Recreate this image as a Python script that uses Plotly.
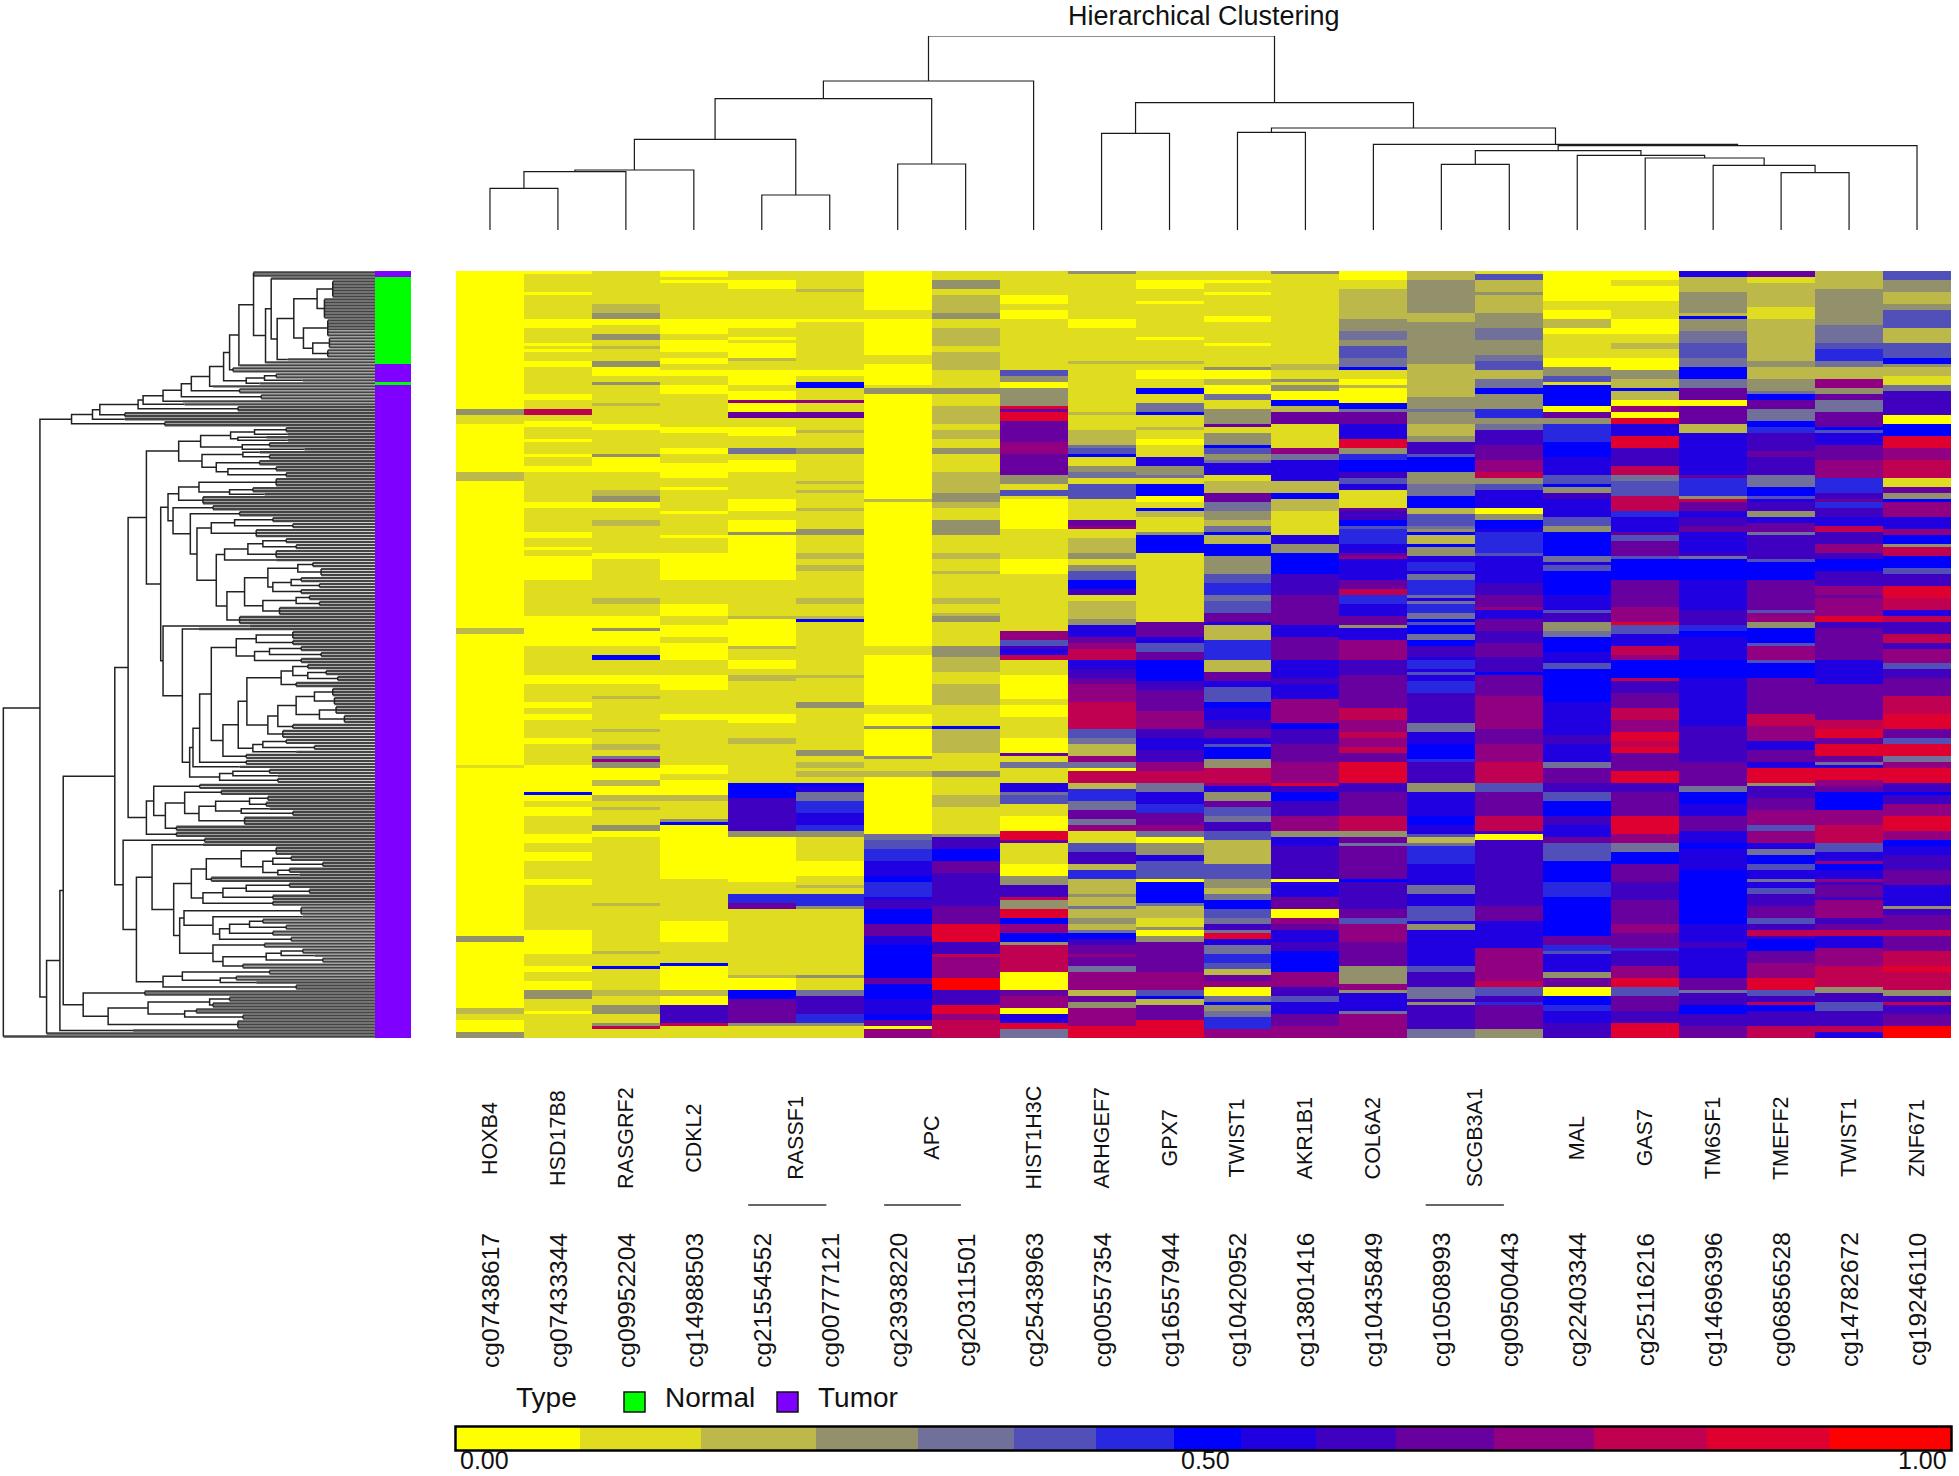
import plotly.graph_objects as go

W, H = 1959, 1476
N_ROWS = 256

PROBES = ["cg07438617","cg07433344","cg09952204","cg14988503","cg21554552","cg00777121","cg23938220","cg20311501",
          "cg25438963","cg00557354","cg16557944","cg10420952","cg13801416","cg10435849","cg10508993","cg09500443",
          "cg22403344","cg25116216","cg14696396","cg06856528","cg14782672","cg19246110"]
GENES = ["HOXB4","HSD17B8","RASGRF2","CDKL2","RASSF1","APC","HIST1H3C","ARHGEF7","GPX7","TWIST1","AKR1B1","COL6A2",
         "SCGB3A1","MAL","GAS7","TM6SF1","TMEFF2","TWIST1","ZNF671"]
GENE_POS = [0,1,2,3,4.5,6.5,8,9,10,11,12,13,14.5,16,17,18,19,20,21]
GENE_BARS = [(3.8,4.95),(5.8,6.93),(13.77,14.92)]

# colour key: 15 steps, a..o
KEY_EDGES = [0,.083,.164,.241,.309,.373,.428,.48,.525,.575,.629,.694,.761,.837,.919,1]
KEY_COLORS = ["#FFFF00","#E0DC20","#BDB84A","#93906C","#70709A","#5050B8","#2828E0","#0000FF","#2000E0","#4000C0",
              "#6800A0","#900080","#C00050","#E00030","#FF0000"]
KEY_LETTERS = "abcdefghijklmno"

# methylation level per probe, as "first_row+level" bands, rows top to bottom
COL_BANDS = [
"0a 46d 48b 51a 67c 70a 119c 121a 165b 166a 222d 224a 246c 248b 250a 254d",
"0a 1b 7a 8b 16a 19b 24a 25b 26a 27b 30a 32b 41a 43b 46m 48b 50a 52b 56a 57b 61a 62b 65a 67b 77a 79b 87a 89b 92a 93b 95a 103b 115a 125b 135a 138b 144a 146b 148a 150b 156a 158b 165a 174h 175a 177b 179a 182b 188a 191b 194a 197b 203a 205b 220a 228b 232a 234b 237a 240d 243b 247a 248b",
"0b 11c 14d 16a 18b 21d 23b 25c 26b 30d 32a 35b 37d 38b 44c 45b 51a 53b 61d 62a 67b 73c 75d 77a 79b 83c 85b 94a 96b 109c 111b 115a 119d 120a 125b 128h 130b 135a 138b 142c 143b 153c 154b 158c 160b 162e 163l 164d 166a 170c 172a 175c 177b 179c 180b 185d 187a 189b 211c 212b 227c 228b 232h 233b 240c 242b 245d 248b 251d 252m 253b",
"0a 2b 3a 4b 16a 21b 23a 27b 29a 31b 33a 35b 38a 41b 52a 54b 59a 61b 64a 69b 72a 73b 80a 81b 88a 89b 94a 103b 111a 115b 118a 122b 124a 130b 135a 140b 148a 150b 165a 168b 170a 175c 177b 183d 184h 185a 203b 217a 224b 231h 232a 240c 242a 245j 251m 252b",
"0b 3a 6b 16a 19b 22a 23b 24a 29c 30b 33a 38b 40a 43l 44a 47k 49b 52a 55b 59e 61b 63a 67b 76a 80b 83a 87d 88a 103b 115c 116a 125c 126b 130a 133b 135c 137b 148a 151b 156c 158b 171h 176j 187d 189a 204b 208g 211k 213b 235c 236a 240h 243k 251d 252b",
"0b 6c 7b 16a 17b 33a 35b 37h 39b 43l 44b 47k 49b 53c 54b 59d 61b 70c 71b 73c 74b 79c 80b 86d 88b 94c 96b 98c 100b 109c 111b 115c 116h 117b 126b 135c 136b 144d 146b 160d 162b 164c 166b 167c 169b 171h 172i 174e 177g 181i 185g 187d 189b 197a 202b 205c 206b 208g 212d 213b 235d 236b 240e 242j 248g 251d 252b",
"0a 13b 16a 28b 31a 38b 39d 41a 76c 77a 125b 128a 145b 148a 152d 153a 162d 163b 167c 169a 188e 190f 193g 197i 202h 204g 209i 210j 213h 218k 222i 225h 236k 238h 243i 248h 250k 252a 253l",
"0b 3d 6b 8c 14d 16b 19c 25b 27c 33b 39d 41b 45c 51b 53c 56b 59d 61b 67c 74d 77c 79b 83d 88b 94c 96b 100c 101b 109c 111b 114c 115d 117b 125d 129c 134b 138c 145b 152h 153c 161b 167d 169b 175c 179b 188d 189j 193h 197k 201j 212k 218n 224j 228m 229l 236o 240j 245n 248l 250m",
"0b 8a 11b 13a 16b 33f 35d 37a 39d 45n 46k 47n 50k 57l 61k 68d 71b 73f 75b 76a 86b 96a 101b 120l 123f 125j 126i 128m 130b 135a 143b 145a 149b 156a 161k 162b 164e 166b 171i 174e 175f 178b 182a 187n 190k 191b 198a 202d 205j 209m 210d 213n 216h 218l 221h 224d 225m 234a 240k 242l 246a 248i 251n 253e",
"0d 1b 16a 19b 30c 31b 47c 48b 53c 58e 59f 61h 62b 65d 67e 69b 71f 76b 83k 85l 86b 89c 94d 96b 98d 100f 103h 106j 108b 110c 116d 118i 122k 124l 126m 130i 133j 136k 138l 144m 153f 156e 158c 162l 164e 166a 167m 171c 173g 177e 180k 183e 185l 187b 191f 194j 198c 200g 203c 208d 209c 212e 213c 216d 218c 220e 221h 223j 225k 228l 229k 232e 234l 240c 242k 244d 246l 252n",
"0b 3a 6b 10a 11b 22a 23b 30c 31b 33a 36b 39h 41b 44e 47h 48b 52c 53b 56a 58b 62i 65d 68e 69b 71h 75a 77b 79h 80c 82b 87d 88h 94b 117k 122i 124f 127k 130h 137j 140k 147l 153j 156i 160j 164l 167m 171e 174i 178g 181k 185l 187e 189a 191d 195i 197f 203a 204h 211e 212c 216b 219d 220a 222d 224k 234l 240f 242h 243c 245k 250n",
"0b 3a 4b 7a 8b 15a 17b 24a 25b 32d 33a 36c 38a 41e 43b 46d 51k 52b 54d 58h 59f 61d 63e 64i 68b 70c 74k 77e 80d 83c 85e 87h 88c 91h 95d 101f 104g 108e 110f 114k 117i 118c 123g 130c 134k 137i 139f 144h 146i 150j 153k 156i 158f 159h 163d 166m 171l 172i 174d 177k 179f 182e 184j 187f 190c 198f 203d 206c 208e 210h 213f 216e 218j 220e 221n 223i 225e 228g 231f 233c 235k 237l 239a 242e 244h 245d 247e 249g 253l",
"0d 1b 31c 33b 36d 37b 38d 40a 43h 45c 47k 51b 59l 61e 63i 70c 74h 76c 80b 88i 91d 94h 101j 108k 118i 122k 130i 136j 138i 143l 151h 153j 158k 164l 171n 172j 174h 177j 182l 187d 189i 192j 203a 204i 209k 213a 216l 218k 220i 224j 227h 234l 239j 242f 244i 248k 252l",
"0a 3b 6c 16d 20e 23d 25f 29e 32h 33b 36a 38c 39a 44h 46e 47k 51i 56n 59d 61g 63h 67j 69f 71i 73b 79k 80j 83h 85f 86g 91i 94k 95l 96i 103k 106m 108g 111i 115k 118d 119i 123l 130j 135k 146m 150l 154m 156l 159m 161k 164n 171j 174k 182m 187d 189k 191e 192k 203h 204j 213k 216f 218l 224k 232d 238l 240d 241i 247e 248l",
"0c 3d 14c 17d 31c 42d 46e 47d 51c 55d 57j 61f 62h 67d 71e 75h 79c 81f 85e 86d 87h 88c 91h 92d 95i 97g 100i 101e 103g 108e 109i 110e 111g 114e 116h 117f 118h 121e 123h 125j 129i 130g 133i 134f 135i 137g 141j 151e 154i 158h 163g 164j 171d 174i 182h 185i 188f 189c 191e 192g 198i 205e 208i 212f 217i 218d 220i 232f 234j 239e 243j 244d 245j 253e",
"0b 1f 3c 7d 8c 14d 19e 23d 28e 30f 33c 36e 39h 41d 46g 49d 51e 53j 58k 63l 67m 69d 71f 73i 79a 81d 83h 86i 87g 94f 95i 104j 108k 112l 113i 116k 120j 124k 129j 134h 135k 142l 153k 158l 164m 171f 174k 182m 187j 188a 190j 212k 217i 226l 237m 239f 242j 244g 245k 253d",
"0a 10b 13a 16c 19a 21b 29a 32d 35f 37b 38h 45a 47k 49d 51g 57h 62i 68f 71h 72d 74j 76i 82f 85d 87h 95e 97i 98f 100h 108i 113f 114j 117d 120e 122h 127i 131f 133h 137h 144i 155j 158i 164e 166k 171j 174f 177h 182j 185i 189k 191f 197h 204g 209h 222k 225g 227f 228i 234d 236k 239a 242h 245g 247i 251j",
"0a 3b 5a 10b 16a 21b 24c 26b 29a 33d 36c 39h 40c 43a 45l 47a 49n 51i 55n 59j 65m 68e 70f 75m 80g 82i 87k 88f 90k 95f 96h 103k 112l 117n 118f 121i 125m 128l 130h 136m 137j 141k 146m 150l 154n 157m 159n 161k 167n 171j 174k 182n 188l 191e 194h 198k 204j 210k 218l 221k 226g 227j 232l 236n 239f 242k 247j 251n",
"0i 2c 7d 14c 15h 16d 20e 24f 29e 32h 36e 39k 43a 45k 51c 54i 68k 69g 75d 76m 77k 80i 82j 85k 87i 94j 95e 96h 103i 113j 118g 120h 122i 130h 136i 152j 164k 172e 174h 178i 182k 187i 191h 193i 200h 216h 218i 224j 226i 236k 240e 241j 245h 248j 252k",
"0k 2b 4c 12b 16c 30d 32c 36d 40e 41h 43k 46e 50h 52g 54j 60k 62j 68e 72h 75f 76i 77j 80d 82i 84k 87e 88j 96f 97h 103k 113f 114l 117d 119h 124f 125l 130f 131h 136k 148m 152l 157i 160k 164i 166n 171d 172j 176k 180l 185f 187l 191i 193e 195h 198f 200i 203e 204i 206f 208j 212k 216f 218j 220m 222j 223h 227k 231l 236n 240f 242j 244m 245h 247j 252m",
"0c 6d 18e 24f 26g 30e 32c 36l 39d 41k 43e 47k 52h 53f 54i 58k 63l 69g 74j 76k 77g 79j 82i 85m 87j 91l 94j 96h 100j 105l 108k 109l 115n 117j 119k 130i 138k 150m 153n 156k 158n 162k 164e 165i 166n 170l 172k 174h 180l 185m 191f 194i 197l 198h 200i 203l 204j 205k 209j 210l 216j 218k 220m 222i 226l 232m 239d 241j 244f 247j 252m 254i",
"0f 3d 7c 11d 13f 19c 24f 29h 31d 32c 35b 38e 40j 48a 51h 55n 59l 63m 69b 72k 74d 76h 77l 82i 86l 88h 91d 92m 95h 99f 101j 105n 109m 113i 115m 117j 121m 124j 126l 131f 133j 136k 142m 148n 153k 156f 158n 162e 164l 166n 171j 174h 175j 178l 182n 187l 190h 192i 195j 200k 205i 212d 213j 215k 220m 222k 227m 232n 234m 240d 242j 244m 245j 248k 252o",
]

TYPE_BANDS = "0t 2n 31t 37n 38t"
TYPE_COLORS = {"n": "#00FF00", "t": "#7F00FF"}
TYPE_LEGEND = [("Normal", "#00FF00"), ("Tumor", "#7F00FF")]

# probe tree: (merge height, left, right); ints are column indices
PROBE_TREE = (582,
    (447,
        (394,
            (272,
                (180, (175, (125, 0, 1), 2), 3),
                (105, 4, 5)),
            (198, 6, 7)),
        8),
    (382,
        (290, 9, 10),
        (306,
            (293, 11, 12),
            (257,
                13,
                (253,
                    (238,
                        (197, 14, 15),
                        (224, 16, (216, 17, (194, 18, (172, 19, 20))))),
                    21))))
)

# sample tree: (merge position, upper, lower); lists are [merge position, first row, last row]
GREEN = (883, (953, [1000,3,8], [975,9,15]), (912, [985,16,21], (940, [990,22,25], [985,26,28])))
TOP = (215,
    (278,
        (300,
            (415,
                (430,
                    (490,
                        (545,
                            (575,
                                (630,
                                    (672,
                                        (690,
                                            (718,
                                                (762, [762,0,1],
                                                    (798, (815, [815,2,2], (833, GREEN, [865,29,29])), [800,30,30])),
                                                [720,31,31]),
                                            [700,32,33]),
                                        (740, (795, [830,34,35], [910,36,36]), [780,37,37])),
                                    [640,38,38]),
                                [720,39,40]),
                            [785,41,42]),
                        [550,43,43]),
                    [555,44,44]),
                [715,45,46]),
            [375,47,48]),
        [375,49,49]),
    [495,50,51])

N603 = (603, (693, (765, [860,52,53], [865,54,54]), (715, [800,55,55], [865,56,56])), (728, [810,57,58], [915,59,59]))
N607 = (607, (730, [780,60,60], [810,61,62]), (650, [780,63,64], (685, [830,65,66], [860,67,68])))
N675 = (675, (745, (790, [860,89,90], [890,91,92]), [830,93,95]), [830,96,96])
N735 = (735,
    (805, (895, [940,97,98], [965,99,101]), (820, (875, [905,102,103], [960,104,105]), [905,106,107])),
    (790, (890, [930,108,109], [960,110,111]), [840,112,114]))
N592 = (592, (635, (705, [820,82,83], [880,84,85]), [770,86,88]), (650, N675, (682, N735, [720,115,117])))
N505 = (505,
    (537, (598, [830,69,71], (690, [760,72,73], [795,74,74])), [610,75,77]),
    (520, [640,78,79], (572, [720,80,81], N592)))
N742 = (742,
    (845, (880, [925,131,132], (925, [980,133,134], [1015,135,136])), [890,137,138]),
    (805, (835, (890, (945, [1000,139,141], [1005,142,144]), (960, [1010,145,147], [1035,148,150])), [880,151,152]), [850,153,155]))
N635 = (635,
    (710, (770, [880,120,122], [880,123,124]), (765, (810, [905,125,126], [965,127,128]), [905,129,130])),
    (670, (716, N742, (760, (790, [860,156,157], [945,158,159]), [890,160,160])), [740,161,162]))
N570 = (570, (580, (600, N635, [740,163,164]), [720,165,165]), (660, (700, [810,166,167], [835,168,168]), [835,169,170]))
N440A = (440,
    (537, N603, N607),
    (483, N505, (490, [750,118,118], (548, [598,119,119], N570))))
N440B = (440,
    (462, [600,171,172],
        (497, (555, [665,173,174], (598, (648, (750, [805,175,176], [800,177,178]), (725, [810,179,179], [880,180,181])), [735,182,184])), [530,185,186])),
    [530,187,188])
N620 = (620, (725, [830,192,194], (790, (820, [875,195,196], [970,197,198]), (835, [870,199,200], [900,201,201]))), [635,202,203])
N610 = (610, (670, (740, [870,204,205], [930,206,207]), [820,208,209]), [820,210,211])
N553 = (553, [905,212,214], (640, [910,215,215], (660, (690, (750, [790,216,217], [860,218,219]), [820,220,221]), [875,222,223])))
N640 = (640, [795,224,225], (670, (800, (845, [910,226,227], [945,228,228]), [970,229,230]), [730,231,232]))
N370 = (370, [615,189,190],
    (410,
        (457, [610,191,191], (522, (575, N620, N610), (540, N553, N640))),
        (490, (548, [810,233,234], (662, [710,235,236], [770,237,237])), [890,238,239])))
N250 = (250, [435,240,241],
    (325, (445, (630, [690,242,243], [640,244,245]), (555, [590,246,247], [730,248,249])), [715,250,252]))
SAMPLE_TREE = (10,
    (120, TOP,
        (140,
            (180,
                (190, (345, (385, N440A, N440B), N370), N250),
                [400,253,253]),
            [140,254,254])),
    [10,255,255])
SAMPLE_LEAF_END = 1127


def decode(bands):
    toks = [(int(t[:-1]), t[-1]) for t in bands.split()]
    out = [None] * N_ROWS
    for i, (start, lev) in enumerate(toks):
        end = toks[i + 1][0] if i + 1 < len(toks) else N_ROWS
        for r in range(start, end):
            out[r] = lev
    return out


key_mid = {l: (KEY_EDGES[i] + KEY_EDGES[i + 1]) / 2 for i, l in enumerate(KEY_LETTERS)}
columns = [[key_mid[l] for l in decode(b)] for b in COL_BANDS]
z = [[columns[c][r] for c in range(len(columns))] for r in range(N_ROWS)]

colorscale = []
for i, col in enumerate(KEY_COLORS):
    colorscale += [[KEY_EDGES[i], col], [KEY_EDGES[i + 1], col]]

px = lambda v: v / W
py = lambda v: 1 - v / H

fig = go.Figure()
fig.add_trace(go.Heatmap(z=z, x=list(range(22)), y=list(range(N_ROWS)), zmin=0, zmax=1, colorscale=colorscale,
                         showscale=False, xaxis="x", yaxis="y", hoverinfo="skip"))

# type strip
type_vals = [0 if t == "n" else 1 for t in decode(TYPE_BANDS)]
fig.add_trace(go.Heatmap(z=[[v] for v in type_vals], y=list(range(N_ROWS)), x=[0], zmin=0, zmax=1,
                         colorscale=[[0, TYPE_COLORS["n"]], [1, TYPE_COLORS["t"]]], showscale=False,
                         xaxis="x4", yaxis="y", hoverinfo="skip"))

# probe dendrogram
dx, dy = [], []
def walk_top(n):
    if isinstance(n, int):
        return n, 0
    h, a, b = n
    xa, ha = walk_top(a)
    xb, hb = walk_top(b)
    dx.extend([xa, xa, xb, xb, None])
    dy.extend([ha, h, h, hb, None])
    return (xa + xb) / 2, h
walk_top(PROBE_TREE)
fig.add_trace(go.Scatter(x=dx, y=dy, mode="lines", line=dict(color="#1a1a1a", width=1.2), xaxis="x2", yaxis="y2",
                         hoverinfo="skip", showlegend=False))

# sample dendrogram
sx, sy, lx, ly = [], [], [], []
def walk_side(n):
    if isinstance(n, list):
        pos, r0, r1 = n
        for r in range(r0, r1 + 1):
            lx.extend([pos, SAMPLE_LEAF_END, None])
            ly.extend([r, r, None])
        if r1 > r0:
            sx.extend([pos, pos, None])
            sy.extend([r0, r1, None])
        return pos, (r0 + r1) / 2
    pos, a, b = n
    pa, ya = walk_side(a)
    pb, yb = walk_side(b)
    sx.extend([pa, pos, pos, pb, None])
    sy.extend([ya, ya, yb, yb, None])
    return pos, (ya + yb) / 2
walk_side(SAMPLE_TREE)
fig.add_trace(go.Scatter(x=lx, y=ly, mode="lines", line=dict(color="#444444", width=2.4), xaxis="x3", yaxis="y",
                         hoverinfo="skip", showlegend=False))
fig.add_trace(go.Scatter(x=sx, y=sy, mode="lines", line=dict(color="#222222", width=1.5), xaxis="x3", yaxis="y",
                         hoverinfo="skip", showlegend=False))

# colour key
fig.add_trace(go.Heatmap(z=[[(KEY_EDGES[i] + KEY_EDGES[i + 1]) / 2 for i in range(15)]], x=KEY_EDGES, y=[0, 1],
                         zmin=0, zmax=1, colorscale=colorscale, showscale=False, xaxis="x5", yaxis="y5", hoverinfo="skip"))

hidden = dict(visible=False, showgrid=False, zeroline=False, fixedrange=True)
hm_dom = [px(456), px(1951)]
fig.update_layout(
    width=W, height=H, margin=dict(l=0, r=0, t=0, b=0, pad=0), paper_bgcolor="white", plot_bgcolor="white",
    showlegend=False, font=dict(family="Liberation Sans", color="#111111"),
    xaxis=dict(hidden, domain=hm_dom, range=[-0.5, 21.5]),
    yaxis=dict(hidden, domain=[py(1038), py(271)], range=[N_ROWS - 0.5, -0.5]),
    xaxis2=dict(hidden, domain=hm_dom, range=[-0.5, 21.5], anchor="y2"),
    yaxis2=dict(hidden, domain=[py(230), py(36)], range=[0, 582], anchor="x2"),
    xaxis3=dict(hidden, domain=[0, px(375)], range=[0, SAMPLE_LEAF_END], anchor="y"),
    xaxis4=dict(hidden, domain=[px(375), px(411)], range=[-0.5, 0.5], anchor="y"),
    xaxis5=dict(hidden, domain=[px(456), px(1951)], range=[0, 1], anchor="y5"),
    yaxis5=dict(hidden, domain=[py(1450), py(1427)], range=[0, 1], anchor="x5"),
)

ann = []
def text(x, y, s, size, xref="paper", angle=0, xanchor="center"):
    ann.append(dict(x=x, y=y, xref=xref, yref="paper", text=s, showarrow=False, textangle=angle, xanchor=xanchor,
                    yanchor="middle", font=dict(size=size, family="Liberation Sans", color="#111111")))

text(px(1204), py(16), "Hierarchical Clustering", 27)
for i, s in enumerate(PROBES):
    text(i, py(1300), s, 24.5, xref="x", angle=-90)
for p, s in zip(GENE_POS, GENES):
    text(p, py(1138), s, 21.5, xref="x", angle=-90)
text(px(546), py(1397), "Type", 28)
text(px(663), py(1397), TYPE_LEGEND[0][0], 28, xanchor="left")
text(px(816), py(1397), TYPE_LEGEND[1][0], 28, xanchor="left")
text(px(458), py(1460), "0.00", 25, xanchor="left")
text(px(1205), py(1460), "0.50", 25)
text(px(1949), py(1460), "1.00", 25, xanchor="right")

shapes = []
for a, b in GENE_BARS:
    shapes.append(dict(type="line", xref="x", yref="paper", x0=a, x1=b, y0=py(1205), y1=py(1205),
                       line=dict(color="#333333", width=1.5)))
for (name, col), x0 in zip(TYPE_LEGEND, (624, 777)):
    shapes.append(dict(type="rect", xref="paper", yref="paper", x0=px(x0), x1=px(x0 + 21), y0=py(1412), y1=py(1392),
                       fillcolor=col, line=dict(color="#111111", width=1.5)))
shapes.append(dict(type="rect", xref="paper", yref="paper", x0=px(455.5), x1=px(1951.5), y0=py(1450.5), y1=py(1426.5),
                   line=dict(color="black", width=2.5)))
fig.update_layout(annotations=ann, shapes=shapes)

fig.write_html("out.html", config={"displayModeBar": False},
               post_script="document.body.style.margin='0';document.documentElement.style.overflow='hidden';")
